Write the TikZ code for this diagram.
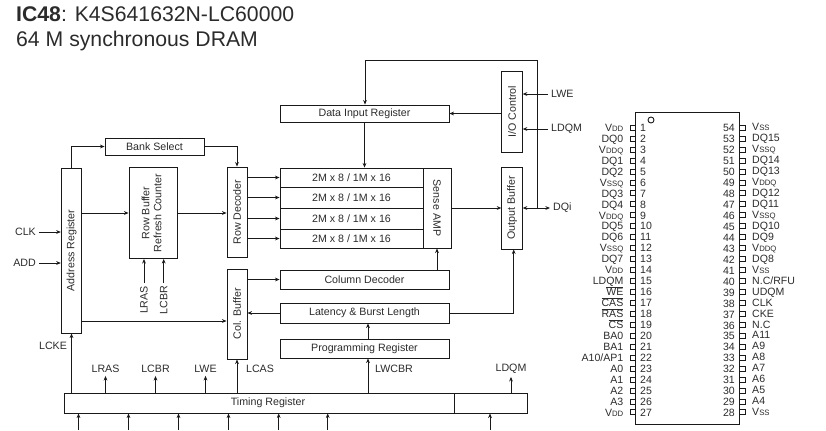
\documentclass[tikz,border=0pt]{standalone}
\usepackage{fontspec}
\setmainfont{Liberation Sans}
\usetikzlibrary{arrows.meta}
\definecolor{ink}{HTML}{2B2B2B}
\newcommand{\lowv}[1]{V{\fontsize{7.8}{8}\selectfont #1}}
\newcommand{\barred}[1]{$\overline{\mbox{#1}}$}
\newcommand{\upw}[1]{\rotatebox{90}{#1}}
\tikzset{
  box/.style={draw=black!90, line width=0.9pt, inner sep=0pt, align=center, text=ink, font=\fontsize{10.7}{12}\selectfont},
  sig/.style={inner sep=3pt, text=ink, font=\fontsize{10.7}{12}\selectfont},
  pin/.style={inner sep=0pt, text=ink, font=\fontsize{10.6}{12}\selectfont},
  arr/.style={-{Stealth[length=4.6pt,width=3.8pt]}, line width=0.9pt, draw=black!90},
  wire/.style={line width=0.9pt, draw=black!90}
}
\begin{document}
\begin{tikzpicture}[x=1bp,y=-1bp]
\useasboundingbox (0,0) rectangle (826,430);
\node[anchor=base west, inner sep=0pt, text=ink, font=\fontsize{21.3}{25}\selectfont] (title) at (16,21) {\textbf{IC48}: K4S641632N-LC60000};
\node[anchor=base west, inner sep=0pt, text=ink, font=\fontsize{21.3}{25}\selectfont] (subtitle) at (16,46) {64 M synchronous DRAM};
% blocks
\node[box, minimum width=99bp, minimum height=17bp] (bank) at (154.5,146.5) {Bank Select};
\node[box, minimum width=20.5bp, minimum height=165bp] (addr) at (71.5,250.5) {\upw{Address Register}};
\node[box, minimum width=48bp, minimum height=91bp] (rowbuf) at (153,213) {\upw{\begin{tabular}{@{}c@{}}Row Buffer\\Refresh Counter\end{tabular}}};
\node[box, minimum width=20bp, minimum height=90bp] (rowdec) at (237,212) {\upw{Row Decoder}};
\node[box, minimum width=143bp, minimum height=19bp] (rowa) at (351.5,177.5) {2M x 8 / 1M x 16};
\node[box, minimum width=143bp, minimum height=21bp] (rowb) at (351.5,197.5) {2M x 8 / 1M x 16};
\node[box, minimum width=143bp, minimum height=21bp] (rowc) at (351.5,218.5) {2M x 8 / 1M x 16};
\node[box, minimum width=143bp, minimum height=19bp] (rowd) at (351.5,238.5) {2M x 8 / 1M x 16};
\node[box, minimum width=28bp, minimum height=80bp] (sense) at (437,208) {\rotatebox{-90}{Sense AMP}};
\node[box, minimum width=169bp, minimum height=17bp] (datain) at (364.5,113.5) {Data Input Register};
\node[box, minimum width=20.5bp, minimum height=81bp] (ioctl) at (512,111.5) {\upw{I/O Control}};
\node[box, minimum width=20.5bp, minimum height=82bp] (outbuf) at (512,208) {\upw{Output Buffer}};
\node[box, minimum width=169bp, minimum height=19bp] (coldec) at (364.5,279.5) {Column Decoder};
\node[box, minimum width=169bp, minimum height=20bp] (latency) at (364.5,313) {Latency \& Burst Length};
\node[box, minimum width=169bp, minimum height=19bp] (prog) at (364.5,348.5) {Programming Register};
\node[box, minimum width=20bp, minimum height=90bp] (colbuf) at (237,314) {\upw{Col. Buffer}};
\node[box, minimum width=390bp, minimum height=20bp] (timing) at (259,403) {\hspace{18bp}Timing Register};
\node[box, minimum width=73bp, minimum height=20bp] (timingb) at (490.5,403) {};
% signal names
\node[sig, anchor=east] (clk) at (39,232) {CLK};
\node[sig, anchor=east] (add) at (39,263) {ADD};
\node[sig, rotate=90] (lrasb) at (144,300) {LRAS};
\node[sig, rotate=90] (lcbrb) at (163.7,300) {LCBR};
\node[sig] (lcke) at (53,346) {LCKE};
\node[sig] (lras) at (105.5,369) {LRAS};
\node[sig] (lcbr) at (155.5,369) {LCBR};
\node[sig] (lwe) at (205.5,369) {LWE};
\node[sig] (lcas) at (260,369) {LCAS};
\node[sig] (lwcbr) at (394,369) {LWCBR};
\node[sig] (ldqm) at (511,369) {LDQM};
\node[sig, anchor=west] (lwer) at (548,94) {LWE};
\node[sig, anchor=west] (ldqmr) at (548,129) {LDQM};
\node[sig, anchor=west] (dqi) at (550,208) {DQi};
\coordinate (fb) at (365,60);
\coordinate (dqj) at (537,208);
\coordinate (lw) at (368,370);
% connectors
\draw[arr] (addr.north) |- (bank.west);
\draw[arr] (bank.east) -| (rowdec.north);
\draw[arr] (addr.east |- rowbuf.west) -- (rowbuf.west);
\draw[arr] (rowbuf.east) -- (rowdec.west |- rowbuf.east);
\draw[arr] (rowdec.east |- rowa.west) -- (rowa.west);
\draw[arr] (rowdec.east |- rowb.west) -- (rowb.west);
\draw[arr] (rowdec.east |- rowc.west) -- (rowc.west);
\draw[arr] (rowdec.east |- rowd.west) -- (rowd.west);
\draw[arr] (dqj) |- (fb) -- (datain.north -| fb);
\draw[arr] (datain.south) -- (datain.south |- rowa.north);
\draw[arr] (ioctl.west |- datain.east) -- (datain.east);
\draw[arr] (lwer.west) -- (ioctl.east |- lwer.west);
\draw[arr] (ldqmr.west) -- (ioctl.east |- ldqmr.west);
\draw[arr] (sense.east) -- (outbuf.west);
\draw[arr] (dqj) -- (outbuf.east);
\draw[arr] (dqj) -- (dqi.west);
\draw[arr] (coldec.north -| sense.south) -- (sense.south);
\draw[arr] (latency.east) -| ([xshift=1.7bp]outbuf.south);
\draw[arr] (colbuf.east |- coldec.west) -- (coldec.west);
\draw[arr] (latency.west) -- (colbuf.east |- latency.west);
\draw[arr] (addr.east |- 0,321) -- (colbuf.west |- 0,321);
\draw[arr] (prog.north -| lw) -- (latency.south -| lw);
\draw[arr] (timing.north -| lw) -- (prog.south -| lw);
\draw[arr] (clk.east) -- (addr.west |- clk.east);
\draw[arr] (add.east) -- (addr.west |- add.east);
\draw[arr] (lrasb.east) -- (rowbuf.south -| lrasb.east);
\draw[arr] (lcbrb.east) -- (rowbuf.south -| lcbrb.east);
\draw[arr] (timing.north -| addr.south) -- (addr.south);
\draw[arr] (timing.north -| colbuf.south) -- (colbuf.south);
\draw[arr] (timing.north -| lras.south) -- (lras.south);
\draw[arr] (timing.north -| lcbr.south) -- (lcbr.south);
\draw[arr] (timing.north -| lwe.south) -- (lwe.south);
\draw[arr] (timingb.north -| ldqm.south) -- (ldqm.south);
\foreach \n/\px in {a/78.5,b/128.5,c/178.5,d/228.5,e/278.7,f/327.7} {
  \coordinate (in\n) at (\px,430);
  \draw[arr] (in\n) -- (timing.south -| in\n);
}
\coordinate (ing) at (490,430);
\draw[arr] (ing) -- (timingb.south -| ing);
% package
\node[draw=black!90, line width=0.9pt, minimum width=103.5bp, minimum height=312bp, inner sep=0pt] (chip) at (687.5,268) {};
\draw[wire] (651,120) circle (3);
\foreach \n/\lab in {1/\lowv{DD},2/DQ0,3/\lowv{DDQ},4/DQ1,5/DQ2,6/\lowv{SSQ},7/DQ3,8/DQ4,9/\lowv{DDQ},10/DQ5,11/DQ6,12/\lowv{SSQ},13/DQ7,14/\lowv{DD},15/LDQM,16/\barred{WE},17/\barred{CAS},18/\barred{RAS},19/\barred{CS},20/BA0,21/BA1,22/{A10/AP1},23/A0,24/A1,25/A2,26/A3,27/\lowv{DD}} {
  \pgfmathsetmacro{\py}{127.7+(\n-1)*10.95}
  \draw[wire] (635.7,\py-2.5) -- (630,\py-2.5) -- (630,\py+2.5) -- (635.7,\py+2.5);
  \node[pin, anchor=base west] (num\n) at (640,\py+3.7) {\n};
  \node[pin, anchor=base east] (name\n) at (623.5,\py+3.7) {\lab};
}
\foreach \n/\lab in {54/\lowv{SS},53/DQ15,52/\lowv{SSQ},51/DQ14,50/DQ13,49/\lowv{DDQ},48/DQ12,47/DQ11,46/\lowv{SSQ},45/DQ10,44/DQ9,43/\lowv{DDQ},42/DQ8,41/\lowv{SS},40/{N.C/RFU},39/UDQM,38/CLK,37/CKE,36/N.C,35/A11,34/A9,33/A8,32/A7,31/A6,30/A5,29/A4,28/\lowv{SS}} {
  \pgfmathsetmacro{\py}{127.7+(54-\n)*10.95}
  \draw[wire] (739.2,\py-2.5) -- (745,\py-2.5) -- (745,\py+2.5) -- (739.2,\py+2.5);
  \node[pin, anchor=base east] (num\n) at (735,\py+4.2) {\n};
  \node[pin, anchor=base west] (name\n) at (752,\py+3.2) {\lab};
}
\end{tikzpicture}
\end{document}
